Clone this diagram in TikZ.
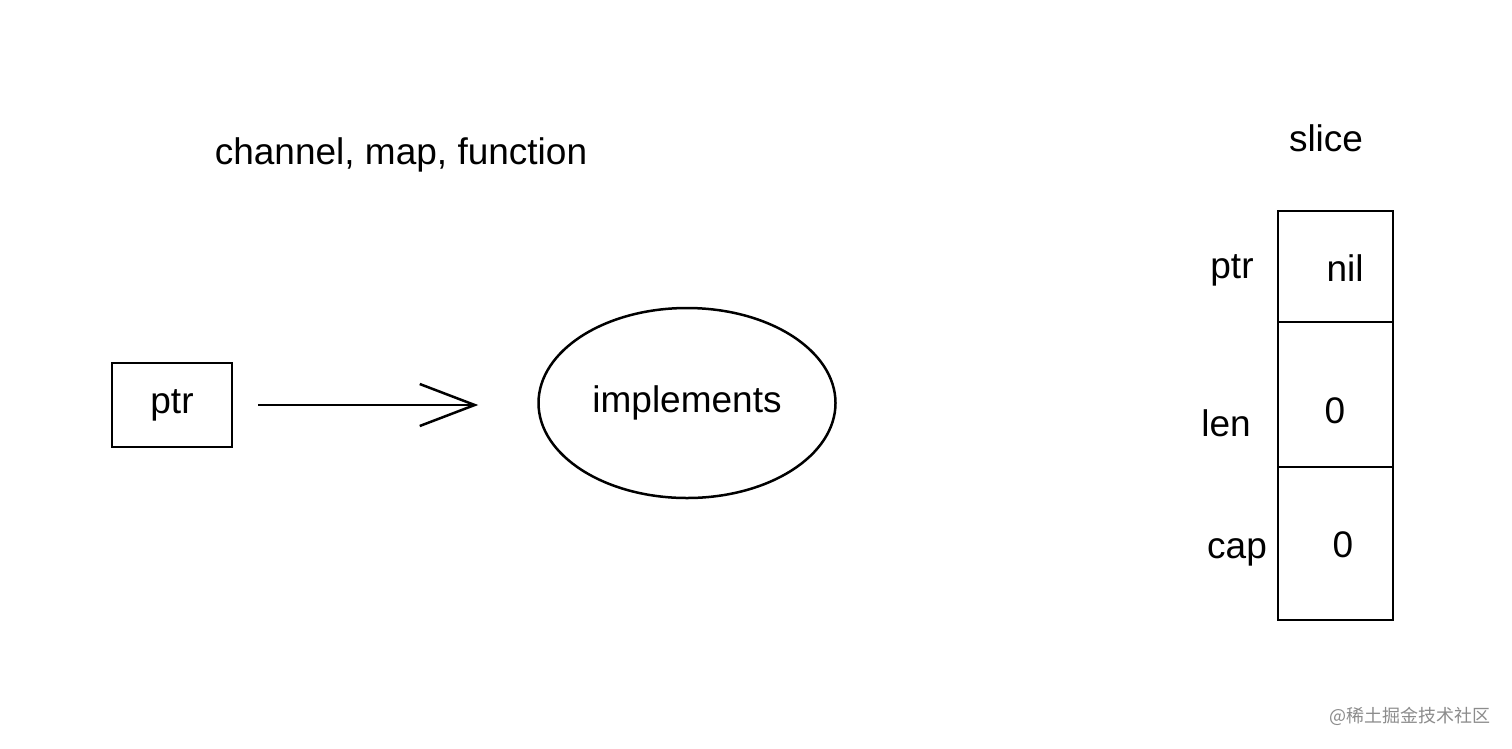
\documentclass[tikz,border=0pt]{standalone}
\usepackage{fontspec}
\setmainfont{Liberation Sans}
\newfontfamily\cjk{Noto Sans CJK SC}
\usetikzlibrary{arrows.meta,shapes.geometric}
\begin{document}
\begin{tikzpicture}[x=1pt,y=-1pt,
  hand/.style={font=\fontsize{37}{42}\selectfont},
  sk/.style={draw=black,line width=2.5pt},
  cell/.style={sk,minimum width=115pt,inner sep=0pt}]
\useasboundingbox[fill=white] (0,0) rectangle (1512,748);
\node[hand] (title) at (401,155) {channel, map, function};
\node[hand] (slicet) at (1326,138) {slice};
\node[sk,hand,minimum width=120pt,minimum height=84pt] (pbox) at (172,405) {ptr};
\node[sk,ellipse,hand,minimum width=297pt,minimum height=190pt] (impl) at (687,403) {implements};
\draw[line width=2.5pt,-{Straight Barb[length=55pt,width=42pt,line width=2.5pt]},shorten <=25pt,shorten >=59pt] (pbox.east) -- (pbox.east -| impl.west);
\node[cell,minimum height=111pt] (c1) at (1335.5,266.5) {};
\node[cell,minimum height=145pt] (c2) at (1335.5,394.5) {};
\node[cell,minimum height=153pt] (c3) at (1335.5,543.5) {};
\node[hand] (v1) at (1345,268) {nil};
\node[hand] (v2) at (1335,411) {0};
\node[hand] (v3) at (1343,545) {0};
\node[hand] (l1) at (1232,270) {ptr};
\node[hand] (l2) at (1226,423) {len};
\node[hand] (l3) at (1237,552) {cap};
\node[text=black!45,font=\cjk\fontsize{18}{21}\selectfont] (wm) at (1410,716) {@稀土掘金技术社区};
\end{tikzpicture}
\end{document}
